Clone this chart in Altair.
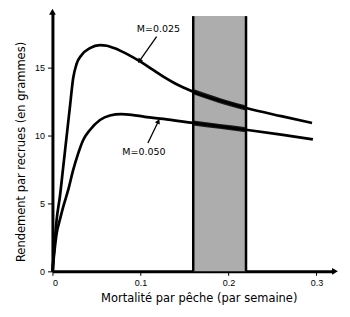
import altair as alt
import pandas as pd

# ---- data ----
x_ticks = [0, 0.1, 0.2, 0.3]
y_ticks = [0, 5, 10, 15]

f_m025 = [0, 0.0028, 0.0048, 0.0085, 0.0123, 0.0161, 0.0199, 0.0236, 0.0275, 0.0332,
          0.0426, 0.054, 0.062, 0.07, 0.078, 0.086, 0.1, 0.113, 0.126, 0.14, 0.16, 0.19, 0.22, 0.26, 0.295]
y_m025 = [0, 2.3, 3.8, 5.5, 7.7, 9.9, 12.1, 14.2, 15.25, 15.9,
          16.4, 16.62, 16.57, 16.4, 16.18, 15.92, 15.4, 14.85, 14.3, 13.78, 13.2, 12.55, 12.0, 11.4, 10.9]

f_m050 = [0, 0.0048, 0.0085, 0.0123, 0.018, 0.0236, 0.0293, 0.035, 0.0426, 0.054,
          0.0653, 0.078, 0.09, 0.105, 0.126, 0.16, 0.19, 0.22, 0.26, 0.296]
y_m050 = [0, 2.8, 3.8, 4.75, 6.0, 7.45, 8.67, 9.65, 10.38, 11.12,
          11.45, 11.55, 11.5, 11.35, 11.2, 10.9, 10.65, 10.4, 10.05, 9.7]

series_names = ["M=0.025", "M=0.050"]
band_x = [0.16, 0.22]
band_top = 18.75

label_text = ["M=0.025", "M=0.050"]
label_x = [0.1205, 0.104]
label_y = [17.8, 8.75]

arrow_tail_x = [0.1184, 0.1085]
arrow_tail_y = [17.25, 9.43]
arrow_tip_x = [0.0994, 0.12]
arrow_tip_y = [15.5, 10.97]
arrow_angle = [215.6, 25.5]

X_DOMAIN = [0, 0.32]
Y_DOMAIN = [0, 19]

# ---- tables ----
curves = pd.concat([
    pd.DataFrame({"x": f_m025, "y": y_m025, "s": series_names[0]}),
    pd.DataFrame({"x": f_m050, "y": y_m050, "s": series_names[1]}),
])
thick = curves[(curves.x >= band_x[0]) & (curves.x <= band_x[1])]
band_df = pd.DataFrame({"x": [band_x[0]], "x2": [band_x[1]], "y": [0], "y2": [band_top]})
edges_df = pd.DataFrame({"x": band_x, "y": [0, 0], "y2": [band_top, band_top]})
labels_df = pd.DataFrame({"x": label_x, "y": label_y, "t": label_text})
arrows_df = pd.DataFrame({"x": arrow_tail_x, "y": arrow_tail_y,
                          "x2": arrow_tip_x, "y2": arrow_tip_y, "a": arrow_angle})
heads_df = pd.DataFrame({"x": arrow_tip_x, "y": arrow_tip_y, "a": arrow_angle})
axis_heads_df = pd.DataFrame({"x": [X_DOMAIN[1], 0], "y": [0, Y_DOMAIN[1]], "a": [90, 0]})

xaxis = alt.Axis(values=x_ticks, title="Mortalité par pêche (par semaine)",
                 labelExpr="datum.value == 0 ? '0' : format(datum.value, '.1f')",
                 grid=False, domainWidth=3, domainColor="black", tickColor="black",
                 tickSize=4, tickWidth=1, labelFontSize=9, labelFont="Liberation Sans",
                 labelColor="black", labelPadding=3,
                 titleFont="DejaVu Sans", titleFontSize=11.5, titleFontWeight="normal",
                 titleColor="black", titlePadding=5, titleX=146.5)
yaxis = alt.Axis(values=y_ticks, title="Rendement par recrues (en grammes)",
                 grid=False, domainWidth=3, domainColor="black", tickColor="black",
                 tickSize=5, tickWidth=1, labelFontSize=9, labelFont="Liberation Sans",
                 labelColor="black", labelPadding=3,
                 titleFont="DejaVu Sans", titleFontSize=11.5, titleFontWeight="normal",
                 titleColor="black", titlePadding=8, titleY=139)

X = alt.X("x:Q", scale=alt.Scale(domain=X_DOMAIN, nice=False, zero=False), axis=xaxis)
Y = alt.Y("y:Q", scale=alt.Scale(domain=Y_DOMAIN, nice=False, zero=False), axis=yaxis)

band = alt.Chart(band_df).mark_rect(color="#adadad").encode(x=X, x2="x2:Q", y=Y, y2="y2:Q")
edges = alt.Chart(edges_df).mark_rule(color="black", strokeWidth=2.5).encode(x=X, y=Y, y2="y2:Q")
lines = alt.Chart(curves).mark_line(color="black", strokeWidth=2.7, interpolate="monotone").encode(
    x=X, y=Y, detail="s:N")
thick_lines = alt.Chart(thick).mark_line(color="black", strokeWidth=5, interpolate="monotone",
                                         opacity=0.85).encode(x=X, y=Y, detail="s:N")
shafts = alt.Chart(arrows_df).mark_rule(color="black", strokeWidth=1.3).encode(
    x=X, y=Y, x2="x2:Q", y2="y2:Q")
heads = alt.Chart(heads_df).mark_point(shape="triangle", filled=True, color="black",
                                       size=30, opacity=1).encode(x=X, y=Y, angle=alt.Angle("a:Q", scale=None))
texts = alt.Chart(labels_df).mark_text(font="DejaVu Sans", fontSize=9.5, color="black").encode(
    x=X, y=Y, text="t:N")
axis_heads = alt.Chart(axis_heads_df).mark_point(shape="triangle", filled=True, color="black",
                                                 size=45, opacity=1).encode(
    x=X, y=Y, angle=alt.Angle("a:Q", scale=None))

chart = alt.layer(band, edges, lines, thick_lines, shafts, heads, texts, axis_heads).properties(
    width=282, height=259,
    autosize=alt.AutoSizeParams(type="none"),
    padding={"left": 44.5, "top": 4.5, "right": 8, "bottom": 40},
    background="white",
).configure_view(strokeWidth=0)

chart.save("out.html", embed_options={"renderer": "svg", "actions": False})
